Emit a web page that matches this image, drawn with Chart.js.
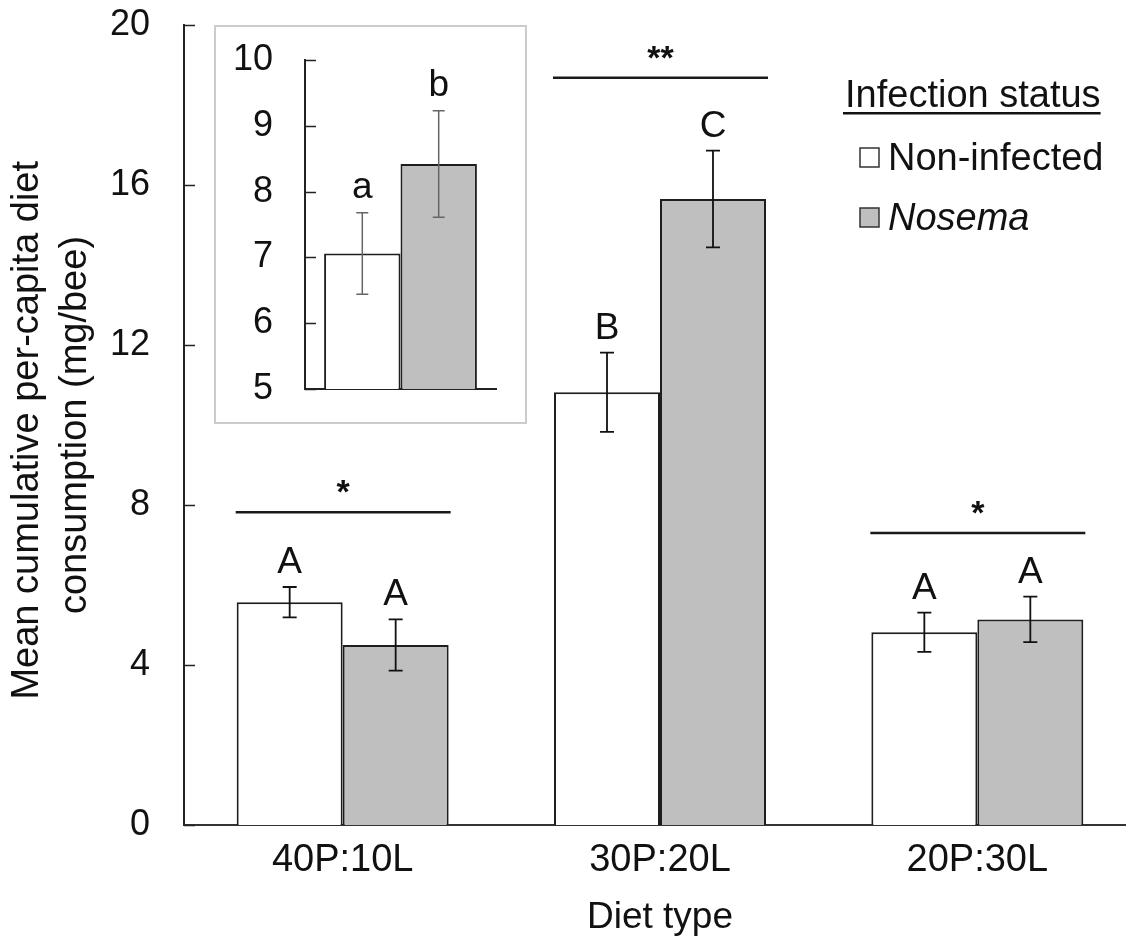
<!DOCTYPE html>
<html>
<head>
<meta charset="utf-8">
<script src="https://cdn.jsdelivr.net/npm/chart.js@4"></script>
<style>
  html, body { margin: 0; padding: 0; background: #fff; }
  #wrap { position: relative; width: 1126px; height: 944px; overflow: hidden; }
  #main { position: absolute; left: 0; top: 0; }
  #insetBox { position: absolute; left: 214px; top: 25px; width: 313px; height: 399px;
              box-sizing: border-box; border: 2px solid #cccccc; background: #fff; }
  #inset { position: absolute; left: 0; top: 0; }
</style>
</head>
<body>
<div id="wrap">
  <canvas id="main" width="1140" height="944"></canvas>
  <div id="insetBox"><canvas id="inset" width="309" height="395"></canvas></div>
</div>
<script>
// diet consumption, mg/bee
const diets = ['40P:10L', '30P:20L', '20P:30L'];
const nonInfected = [5.57, 10.82, 4.82];
const nonInfectedErr = [0.38, 0.99, 0.49];
const nosema = [4.5, 15.65, 5.14];
const nosemaErr = [0.64, 1.21, 0.57];
const nonInfectedLetters = ['A', 'B', 'A'];
const nosemaLetters = ['A', 'C', 'A'];
const pairLevel = [7.82, 18.68, 7.3];
const pairMarks = ['*', '**', '*'];
const yTicks = [0, 4, 8, 12, 16, 20];

// pooled over all diets
const pooledLabel = [''];
const pooledNonInfected = [7.06];
const pooledNonInfectedErr = [0.62];
const pooledNosema = [8.42];
const pooledNosemaErr = [0.81];
const pooledNonInfectedLetters = ['a'];
const pooledNosemaLetters = ['b'];
const insetTicks = [5, 6, 7, 8, 9, 10];

const FONT = "'Liberation Sans', Arial, sans-serif";
const INK = '#111';
const WHITE = '#ffffff';
const GREY = '#bfbfbf';

// short tick marks pointing into the plot from the y axis
const innerTicks = {
  id: 'innerTicks',
  afterDraw(chart, args, opts) {
    const y = chart.scales.y, ctx = chart.ctx;
    const x0 = chart.chartArea.left;
    ctx.save();
    ctx.strokeStyle = opts.color;
    ctx.lineWidth = opts.width;
    y.ticks.forEach(t => {
      const py = Math.round(y.getPixelForValue(t.value)) + 0.5;
      ctx.beginPath();
      ctx.moveTo(x0, py);
      ctx.lineTo(x0 + opts.length, py);
      ctx.stroke();
    });
    ctx.restore();
  }
};

// error bars and the letter over each bar
const errorBars = {
  id: 'errorBars',
  afterDatasetsDraw(chart, args, opts) {
    const ctx = chart.ctx, y = chart.scales.y;
    chart.data.datasets.forEach((ds, i) => {
      chart.getDatasetMeta(i).data.forEach((bar, j) => {
        const v = ds.data[j], e = ds.errors[j];
        const top = y.getPixelForValue(v + e);
        const bot = y.getPixelForValue(v - e);
        const half = opts.cap / 2;
        ctx.save();
        ctx.strokeStyle = opts.color;
        ctx.lineWidth = opts.width;
        ctx.beginPath();
        ctx.moveTo(bar.x, top); ctx.lineTo(bar.x, bot);
        ctx.moveTo(bar.x - half, top); ctx.lineTo(bar.x + half, top);
        ctx.moveTo(bar.x - half, bot); ctx.lineTo(bar.x + half, bot);
        ctx.stroke();
        ctx.fillStyle = INK;
        ctx.font = opts.font;
        ctx.textAlign = 'center';
        ctx.textBaseline = 'alphabetic';
        ctx.fillText(ds.letters[j], bar.x, top - opts.gap);
        ctx.restore();
      });
    });
  }
};

// bracket line + asterisks over each diet pair
const pairLines = {
  id: 'pairLines',
  afterDatasetsDraw(chart) {
    const y = chart.scales.y, ctx = chart.ctx;
    const a = chart.getDatasetMeta(0).data, b = chart.getDatasetMeta(1).data;
    pairLevel.forEach((lvl, j) => {
      const x1 = a[j].x - a[j].width / 2 - 1;
      const x2 = b[j].x + b[j].width / 2 + 2;
      const py = y.getPixelForValue(lvl);
      ctx.save();
      ctx.strokeStyle = '#1a1a1a';
      ctx.lineWidth = 2.5;
      ctx.beginPath();
      ctx.moveTo(x1, py); ctx.lineTo(x2, py);
      ctx.stroke();
      ctx.font = 'bold 34px ' + FONT;
      ctx.fillStyle = INK;
      ctx.textAlign = 'center';
      ctx.textBaseline = 'alphabetic';
      ctx.fillText(pairMarks[j], (x1 + x2) / 2, py - 9);
      ctx.restore();
    });
  }
};

// legend with underlined heading
const statusLegend = {
  id: 'statusLegend',
  afterDraw(chart) {
    const ctx = chart.ctx;
    ctx.save();
    ctx.fillStyle = INK;
    ctx.font = '38px ' + FONT;
    ctx.textAlign = 'left';
    ctx.textBaseline = 'alphabetic';
    ctx.fillText('Infection status', 845, 107);
    const w = ctx.measureText('Infection status').width;
    ctx.fillRect(843, 112, w + 2, 2.5);
    chart.data.datasets.forEach((ds, i) => {
      const cy = 158 + i * 60;
      ctx.fillStyle = ds.backgroundColor;
      ctx.fillRect(860, cy - 10, 19, 19);
      ctx.strokeStyle = '#333';
      ctx.lineWidth = 1.5;
      ctx.strokeRect(860, cy - 10, 19, 19);
      ctx.fillStyle = INK;
      ctx.font = (ds.italic ? 'italic ' : '') + '38px ' + FONT;
      ctx.fillText(ds.label, 888, cy + 12);
    });
    ctx.restore();
  }
};

// keep the plot edges where the layout padding puts them
const noLabelOverflow = s => { s.paddingTop = 0; s.paddingBottom = 0; };

const mainChart = new Chart(document.getElementById('main'), {
  type: 'bar',
  data: {
    labels: diets,
    datasets: [
      { label: 'Non-infected', data: nonInfected, errors: nonInfectedErr, letters: nonInfectedLetters,
        backgroundColor: WHITE, borderColor: '#1e1e1e', borderWidth: 2 },
      { label: 'Nosema', italic: true, data: nosema, errors: nosemaErr, letters: nosemaLetters,
        backgroundColor: GREY, borderColor: '#1e1e1e', borderWidth: 2 }
    ]
  },
  options: {
    responsive: false,
    animation: false,
    categoryPercentage: 0.668,
    barPercentage: 1.0,
    layout: { padding: { left: 0, right: 4, top: 25, bottom: 0 } },
    plugins: {
      legend: { display: false },
      tooltip: { enabled: false },
      innerTicks: { color: '#222', width: 1.5, length: 11 },
      errorBars: { color: INK, width: 1.8, cap: 14, gap: 14, font: '37px ' + FONT }
    },
    scales: {
      x: {
        grid: { display: false },
        border: { display: true, color: '#333', width: 2 },
        ticks: { color: INK, padding: 5, font: { family: FONT, size: 38 } },
        title: { display: true, text: 'Diet type', color: INK,
                 padding: { top: 0, bottom: 4 }, font: { family: FONT, size: 37 } },
        afterFit: s => { s.height = 119; }
      },
      y: {
        min: 0, max: 20,
        afterBuildTicks: s => { s.ticks = yTicks.map(v => ({ value: v })); },
        grid: { display: false, drawTicks: false },
        border: { display: true, color: '#222', width: 2 },
        ticks: { color: INK, padding: 34, font: { family: FONT, size: 36 } },
        title: { display: true, text: ['Mean cumulative per-capita diet ', 'consumption (mg/bee)'],
                 color: INK, padding: { top: 3, bottom: 0 },
                 font: { family: FONT, size: 38, lineHeight: 1.27 } },
        afterFit: s => { s.width = 184; noLabelOverflow(s); }
      }
    }
  },
  plugins: [innerTicks, errorBars, pairLines, statusLegend]
});

const insetChart = new Chart(document.getElementById('inset'), {
  type: 'bar',
  data: {
    labels: pooledLabel,
    datasets: [
      { label: 'Non-infected', data: pooledNonInfected, errors: pooledNonInfectedErr, letters: pooledNonInfectedLetters,
        backgroundColor: WHITE, borderColor: '#1e1e1e', borderWidth: 2 },
      { label: 'Nosema', data: pooledNosema, errors: pooledNosemaErr, letters: pooledNosemaLetters,
        backgroundColor: GREY, borderColor: '#1e1e1e', borderWidth: 2 }
    ]
  },
  options: {
    responsive: false,
    animation: false,
    categoryPercentage: 0.8,
    barPercentage: 1.0,
    layout: { padding: { left: 0, right: 29, top: 33, bottom: 0 } },
    plugins: {
      legend: { display: false },
      tooltip: { enabled: false },
      innerTicks: { color: '#222', width: 1.5, length: 11 },
      errorBars: { color: '#666', width: 1.5, cap: 12, gap: 15, font: '37px ' + FONT }
    },
    scales: {
      x: {
        grid: { display: false },
        border: { display: true, color: '#222', width: 2 },
        ticks: { display: false },
        afterFit: s => { s.height = 33; }
      },
      y: {
        min: 5, max: 10,
        afterBuildTicks: s => { s.ticks = insetTicks.map(v => ({ value: v })); },
        grid: { display: false, drawTicks: false },
        border: { display: true, color: '#222', width: 2 },
        ticks: { color: INK, padding: 32, font: { family: FONT, size: 36 } },
        afterFit: s => { s.width = 89; noLabelOverflow(s); }
      }
    }
  },
  plugins: [innerTicks, errorBars]
});
</script>
</body>
</html>
